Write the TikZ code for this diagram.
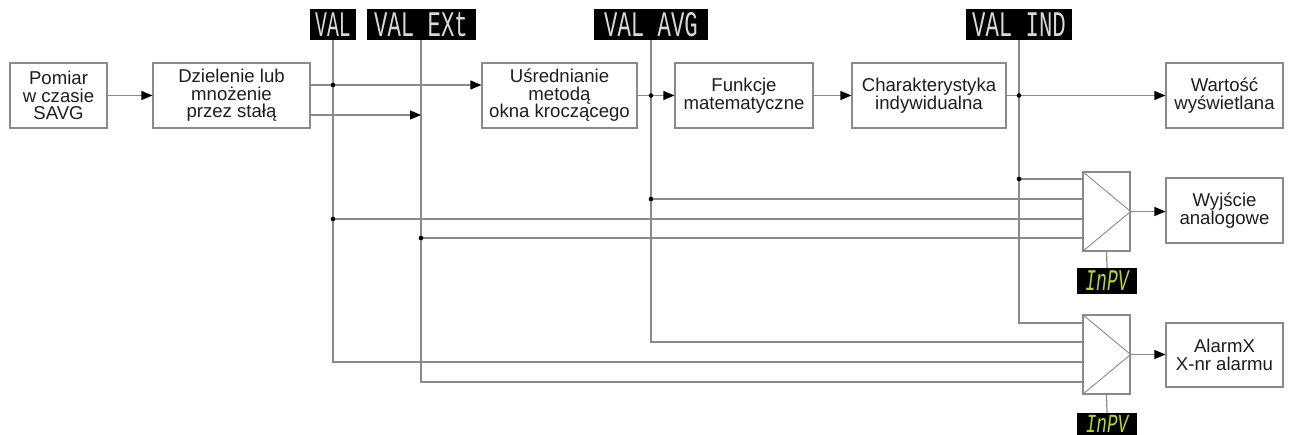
\documentclass[tikz,border=0pt]{standalone}
\usepackage{fontspec}
\setmainfont{Liberation Sans}
\newfontfamily\segfont{Liberation Mono}
\usetikzlibrary{arrows.meta,calc}
\definecolor{ln}{HTML}{8A8A8A}
\definecolor{seg}{HTML}{D8D8D8}
\definecolor{grn}{HTML}{B8D432}
\definecolor{txt}{HTML}{1E1E1E}
\begin{document}
\begin{tikzpicture}[x=1pt,y=-1pt,
  blk/.style={draw=ln,line width=1.2pt,fill=white,align=center,text=txt,
    font=\fontsize{18.6}{17.5}\selectfont,inner sep=0pt},
  wire/.style={draw=ln,line width=1.2pt},
  arr/.style={wire,-{Triangle[length=11pt,width=9pt,color=black]}},
  disp/.style={fill=black,text=seg,inner sep=0pt,minimum height=31pt,
    font=\segfont\fontsize{36}{36}\selectfont},
  gdisp/.style={fill=black,text=grn,inner sep=0pt,minimum width=60pt,
    font=\segfont\fontsize{30}{30}\selectfont},
  amp/.style={draw=ln,line width=1.2pt,fill=white,minimum width=47pt,minimum height=79pt,inner sep=0pt},
  dot/.style={fill=black}
]
\useasboundingbox (0,0) rectangle (1290,435);

% blocks
\node[blk,minimum width=97pt,minimum height=65pt] (b1) at (58.5,95.5) {Pomiar\\w czasie\\SAVG};
\node[blk,minimum width=157pt,minimum height=65pt] (b2) at (231.5,95.5) {Dzielenie lub\\mno\.zenie\\przez sta\l\k{a}};
\node[blk,minimum width=155pt,minimum height=65pt] (b3) at (559.5,95.5) {U\'srednianie\\metod\k{a}\\okna krocz\k{a}cego};
\node[blk,minimum width=138pt,minimum height=65pt] (b4) at (744,95.5) {Funkcje\\matematyczne};
\node[blk,minimum width=154pt,minimum height=65pt] (b5) at (929,95.5) {Charakterystyka\\indywidualna};
\node[blk,minimum width=117pt,minimum height=65pt] (b6) at (1224.5,95.5) {Warto\'s\'c\\wy\'swietlana};
\node[blk,minimum width=117pt,minimum height=65pt] (b7) at (1224.5,210.5) {Wyj\'scie\\analogowe};
\node[blk,minimum width=117pt,minimum height=64pt] (b8) at (1224.5,355) {AlarmX\\X-nr alarmu};

% displays
\node[disp,minimum width=46pt] (dval) at (333,24.5) {\scalebox{0.55}[1]{VAL}};
\node[disp,minimum width=109pt] (dext) at (421,24.5) {\scalebox{0.62}[1]{VAL EXt}};
\node[disp,minimum width=114pt] (davg) at (651,24.5) {\scalebox{0.62}[1]{VAL AVG}};
\node[disp,minimum width=106pt] (dind) at (1019,24.5) {\scalebox{0.62}[1]{VAL IND}};

% amplifiers
\node[amp] (a1) at (1106.5,211.5) {};
\node[amp] (a2) at (1106.5,354.5) {};
\draw[wire,line width=0.9pt] (a1.north west) -- (a1.east) -- (a1.south west);
\draw[wire,line width=0.9pt] (a2.north west) -- (a2.east) -- (a2.south west);
\node[gdisp,minimum height=26pt] (g1) at (1107,281) {\scalebox{0.6}[1]{\itshape InPV}};
\node[gdisp,minimum height=22pt,font=\segfont\fontsize{26}{26}\selectfont] (g2) at (1107,424) {\scalebox{0.68}[1]{\itshape InPV}};
\draw[wire] (a1.south) -- (g1.north);
\draw[wire] (a2.south) -- (g2.north);

% junction coordinates
\coordinate (j1) at (333,85);
\coordinate (x1) at (421,115);
\coordinate (p1) at (1083,179);
\coordinate (p2) at (1083,199);
\coordinate (p3) at (1083,219);
\coordinate (p4) at (1083,238);
\coordinate (q1) at (1083,323);
\coordinate (q2) at (1083,342);
\coordinate (q3) at (1083,362);
\coordinate (q4) at (1083,382);

% vertical display lines to amp2
\draw[wire] (dval.south) |- (q3);
\draw[wire] (dext.south) |- (q4);
\draw[wire] (davg.south) |- (q2);
\draw[wire] (dind.south) |- (q1);

% amp1 inputs
\draw[wire] (dind.south |- p1) -- (p1);
\draw[wire] (davg.south |- p2) -- (p2);
\draw[wire] (dval.south |- p3) -- (p3);
\draw[wire] (dext.south |- p4) -- (p4);

% main flow
\draw[arr] (b1.east) -- (b2.west);
\draw[arr] (b2.east |- j1) -- (b3.west |- j1);
\draw[arr] (b2.east |- x1) -- (x1);
\draw[arr] (b3.east) -- (b4.west);
\draw[arr] (b4.east) -- (b5.west);
\draw[arr] (b5.east) -- (b6.west);
\draw[arr] (a1.east) -- (a1.east -| b7.west);
\draw[arr] (a2.east) -- (a2.east -| b8.west);

% dots
\fill[dot] (j1) circle (2.3pt);
\fill[dot] (davg.south |- b3.east) circle (2.3pt);
\fill[dot] (dind.south |- b5.east) circle (2.3pt);
\fill[dot] (dind.south |- p1) circle (2.3pt);
\fill[dot] (davg.south |- p2) circle (2.3pt);
\fill[dot] (dval.south |- p3) circle (2.3pt);
\fill[dot] (dext.south |- p4) circle (2.3pt);
\end{tikzpicture}
\end{document}
